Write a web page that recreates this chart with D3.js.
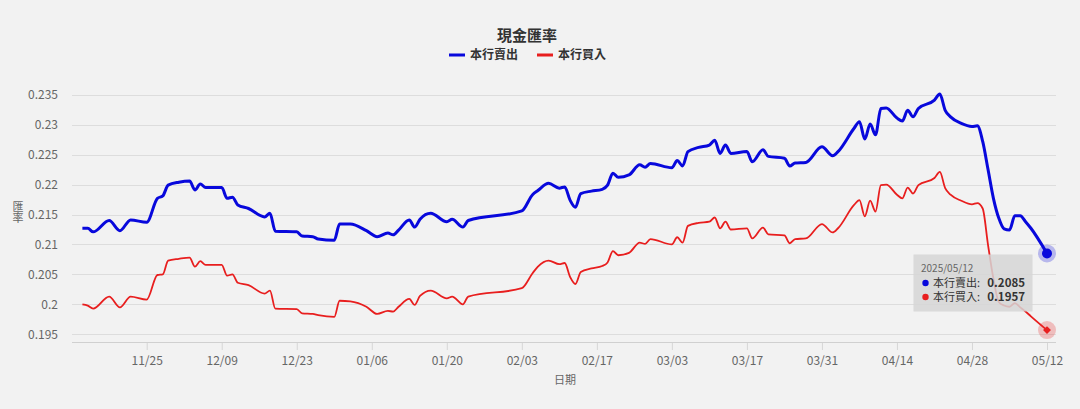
<!DOCTYPE html>
<html>
<head>
<meta charset="utf-8">
<script src="https://cdn.jsdelivr.net/npm/d3@7"></script>
<style>
  html, body { margin: 0; padding: 0; background: #f2f2f2; }
  svg { display: block; font-family: "Noto Sans CJK TC", "Noto Sans", sans-serif; }
</style>
</head>
<body>
<svg id="chart" width="1080" height="409"></svg>
<script>
const title = "現金匯率";
const seriesNames = ["本行賣出", "本行買入"];
const yTitle = "匯率";
const xTitle = "日期";

const dates = [
  "2024-11-13","2024-11-14","2024-11-15","2024-11-18","2024-11-20","2024-11-22","2024-11-25","2024-11-27","2024-11-28","2024-11-29",
  "2024-12-01","2024-12-03","2024-12-04","2024-12-05","2024-12-06","2024-12-09","2024-12-10","2024-12-11","2024-12-12","2024-12-14",
  "2024-12-17","2024-12-18","2024-12-19","2024-12-23","2024-12-24","2024-12-26","2024-12-27","2024-12-30","2024-12-31","2025-01-02",
  "2025-01-05","2025-01-07","2025-01-09","2025-01-10","2025-01-11","2025-01-13","2025-01-14","2025-01-15","2025-01-17","2025-01-20",
  "2025-01-21","2025-01-23","2025-01-24","2025-02-03","2025-02-05","2025-02-06","2025-02-08","2025-02-10","2025-02-11","2025-02-12",
  "2025-02-13","2025-02-14","2025-02-16","2025-02-18","2025-02-19","2025-02-20","2025-02-21","2025-02-23","2025-02-25","2025-02-26",
  "2025-02-27","2025-03-03","2025-03-04","2025-03-05","2025-03-06","2025-03-08","2025-03-10","2025-03-11","2025-03-12","2025-03-13",
  "2025-03-14","2025-03-17","2025-03-18","2025-03-20","2025-03-21","2025-03-24","2025-03-25","2025-03-26","2025-03-28","2025-03-31",
  "2025-04-02","2025-04-03","2025-04-06","2025-04-07","2025-04-08","2025-04-09","2025-04-10","2025-04-11","2025-04-12","2025-04-14",
  "2025-04-15","2025-04-16","2025-04-17","2025-04-18","2025-04-21","2025-04-22","2025-04-23","2025-04-24","2025-04-26","2025-04-28",
  "2025-04-29","2025-04-30","2025-05-01","2025-05-02","2025-05-03","2025-05-04","2025-05-05","2025-05-06","2025-05-07","2025-05-08",
  "2025-05-09","2025-05-12"
];

const sellRates = [
  0.2127,0.2127,0.2121,0.2140,0.2123,0.2141,0.2137,0.2177,0.2181,0.2199,
  0.2204,0.2206,0.2191,0.2201,0.2195,0.2195,0.2177,0.2179,0.2166,0.2160,
  0.2146,0.2152,0.2122,0.2121,0.2114,0.2113,0.2109,0.2107,0.2134,0.2134,
  0.2123,0.2113,0.2119,0.2116,0.2124,0.2141,0.2129,0.2142,0.2152,0.2138,
  0.2142,0.2129,0.2140,0.2156,0.2183,0.2190,0.2202,0.2194,0.2196,0.2174,
  0.2162,0.2185,0.2189,0.2192,0.2199,0.2219,0.2212,0.2216,0.2233,0.2229,
  0.2235,0.2228,0.2240,0.2231,0.2255,0.2262,0.2266,0.2274,0.2252,0.2266,
  0.2252,0.2255,0.2238,0.2258,0.2247,0.2244,0.2231,0.2236,0.2237,0.2263,
  0.2248,0.2255,0.2294,0.2305,0.2276,0.2301,0.2283,0.2327,0.2328,0.2311,
  0.2306,0.2324,0.2313,0.2327,0.2341,0.2351,0.2324,0.2313,0.2302,0.2297,
  0.2298,0.2272,0.2225,0.2177,0.2144,0.2126,0.2124,0.2148,0.2148,0.2138,
  0.2127,0.2085
];

const buyRates = [
  0.2000,0.1998,0.1993,0.2013,0.1995,0.2013,0.2008,0.2049,0.2050,0.2073,
  0.2076,0.2078,0.2063,0.2072,0.2066,0.2066,0.2048,0.2050,0.2036,0.2032,
  0.2018,0.2023,0.1993,0.1992,0.1985,0.1984,0.1982,0.1979,0.2006,0.2005,
  0.1996,0.1984,0.1989,0.1988,0.1996,0.2009,0.1999,0.2014,0.2023,0.2010,
  0.2013,0.2000,0.2013,0.2027,0.2052,0.2063,0.2073,0.2067,0.2069,0.2046,
  0.2034,0.2054,0.2060,0.2064,0.2070,0.2089,0.2082,0.2086,0.2103,0.2101,
  0.2109,0.2100,0.2112,0.2103,0.2131,0.2136,0.2138,0.2145,0.2127,0.2138,
  0.2125,0.2127,0.2110,0.2128,0.2117,0.2115,0.2102,0.2109,0.2110,0.2134,
  0.2120,0.2127,0.2166,0.2174,0.2147,0.2173,0.2155,0.2199,0.2200,0.2183,
  0.2177,0.2195,0.2185,0.2199,0.2211,0.2221,0.2194,0.2183,0.2173,0.2167,
  0.2169,0.2160,0.2099,0.2043,0.2004,0.1998,0.1996,0.2002,0.1995,0.1988,
  0.1980,0.1957
];

const yTicks = [0.195, 0.2, 0.205, 0.21, 0.215, 0.22, 0.225, 0.23, 0.235];
const xTicks = ["2024-11-25","2024-12-09","2024-12-23","2025-01-06","2025-01-20","2025-02-03","2025-02-17",
                "2025-03-03","2025-03-17","2025-03-31","2025-04-14","2025-04-28","2025-05-12"];

const colors = ["#0808dc", "#e81e1e"];

const parse = d3.timeParse("%Y-%m-%d");
const fmtX = d3.timeFormat("%m/%d");
const fmtTip = d3.timeFormat("%Y/%m/%d");

const svg = d3.select("#chart");
const plotLeft = 72, plotRight = 1056, plotBottom = 342;

const x = d3.scaleTime()
  .domain([parse("2024-11-25"), parse("2025-05-12")])
  .range([146.7, 1047]);
const y = d3.scaleLinear()
  .domain([0.195, 0.235])
  .range([334.3, 94.7]);

// gridlines
svg.append("g").selectAll("line").data(yTicks).join("line")
  .attr("x1", plotLeft).attr("x2", plotRight)
  .attr("y1", d => Math.round(y(d)) + 0.5).attr("y2", d => Math.round(y(d)) + 0.5)
  .attr("stroke", "#dddddd").attr("stroke-width", 1);

// y labels
svg.append("g").selectAll("text").data(yTicks).join("text")
  .attr("x", 58).attr("y", d => y(d))
  .attr("dy", "0.35em")
  .attr("text-anchor", "end")
  .attr("font-size", 12).attr("fill", "#666")
  .text(d => String(d));

// y title (vertical writing)
svg.append("text")
  .attr("x", 18).attr("y", 212)
  .attr("text-anchor", "middle")
  .style("writing-mode", "vertical-rl")
  .style("text-orientation", "upright")
  .style("letter-spacing", "0px")
  .attr("font-size", 11).attr("fill", "#666")
  .text(yTitle);

// x axis
const xAxis = d3.axisBottom(x)
  .tickValues(xTicks.map(parse))
  .tickFormat(fmtX)
  .tickSize(8)
  .tickPadding(6);
const gx = svg.append("g").attr("transform", `translate(0,${plotBottom})`).call(xAxis);
gx.select(".domain").remove();
gx.selectAll(".tick line").attr("stroke", "#d6d6d6");
gx.selectAll(".tick text").attr("font-size", 12).attr("fill", "#666")
  .attr("font-family", "\"Noto Sans CJK TC\", sans-serif");
svg.append("line").attr("x1", plotLeft).attr("x2", plotRight)
  .attr("y1", plotBottom + 0.5).attr("y2", plotBottom + 0.5)
  .attr("stroke", "#d0d0d0");

svg.append("text").attr("x", 565).attr("y", 380).attr("dy", "0.35em")
  .attr("text-anchor", "middle").attr("font-size", 11).attr("fill", "#666").text(xTitle);

// lines
const pts = dates.map(parse);
const line = d3.line().x(d => x(d[0])).y(d => y(d[1])).curve(d3.curveMonotoneX);
const sellData = pts.map((d, i) => [d, sellRates[i]]);
const buyData = pts.map((d, i) => [d, buyRates[i]]);

svg.append("path").datum(buyData).attr("d", line)
  .attr("fill", "none").attr("stroke", colors[1]).attr("stroke-width", 1.8)
  .attr("stroke-linejoin", "round");
svg.append("path").datum(sellData).attr("d", line)
  .attr("fill", "none").attr("stroke", colors[0]).attr("stroke-width", 3)
  .attr("stroke-linejoin", "round");

// title
svg.append("text").attr("x", 527).attr("y", 36).attr("dy", "0.35em")
  .attr("text-anchor", "middle").attr("font-size", 15).attr("font-weight", "bold")
  .attr("fill", "#333").text(title);

// legend
const legendItems = [
  { name: seriesNames[0], color: colors[0], x0: 449 },
  { name: seriesNames[1], color: colors[1], x0: 537 }
];
legendItems.forEach(it => {
  svg.append("line").attr("x1", it.x0).attr("x2", it.x0 + 16)
    .attr("y1", 55).attr("y2", 55).attr("stroke", it.color).attr("stroke-width", 3);
  svg.append("text").attr("x", it.x0 + 21).attr("y", 55).attr("dy", "0.35em")
    .attr("font-size", 12).attr("font-weight", "bold").attr("fill", "#333").text(it.name);
});

// tooltip box
const lastI = dates.length - 1;
const tipX = 913, tipY = 254, tipW = 119, tipH = 57;
svg.append("rect").attr("x", tipX + 0.5).attr("y", tipY + 0.5).attr("width", tipW).attr("height", tipH)
  .attr("fill", "rgba(214,214,214,0.85)").attr("stroke", "none");
svg.append("text").attr("x", 921).attr("y", 268.5).attr("dy", "0.35em")
  .attr("font-size", 10).attr("fill", "#666").text(fmtTip(pts[lastI]));
[[sellRates[lastI], colors[0], seriesNames[0], 283], [buyRates[lastI], colors[1], seriesNames[1], 297]].forEach(r => {
  svg.append("circle").attr("cx", 925.5).attr("cy", r[3]).attr("r", 3.2).attr("fill", r[1]);
  svg.append("text").attr("x", 933).attr("y", r[3]).attr("dy", "0.35em")
    .attr("font-size", 11).attr("fill", "#333").text(r[2] + ":");
  svg.append("text").attr("x", 1025).attr("y", r[3]).attr("dy", "0.35em")
    .attr("text-anchor", "end")
    .attr("font-size", 11.5).attr("font-weight", "bold").attr("fill", "#333").text(r[0].toFixed(4));
});

// hover markers
const ex = x(pts[lastI]);
const eyS = y(sellRates[lastI]), eyB = y(buyRates[lastI]);
svg.append("circle").attr("cx", ex).attr("cy", eyS).attr("r", 9).attr("fill", colors[0]).attr("fill-opacity", 0.25);
svg.append("circle").attr("cx", ex).attr("cy", eyS).attr("r", 5).attr("fill", colors[0]);
svg.append("circle").attr("cx", ex).attr("cy", eyB).attr("r", 9).attr("fill", colors[1]).attr("fill-opacity", 0.25);
svg.append("path").attr("d", d3.symbol(d3.symbolDiamond2, 40)())
  .attr("transform", `translate(${ex},${eyB})`).attr("fill", colors[1]);
</script>
</body>
</html>
